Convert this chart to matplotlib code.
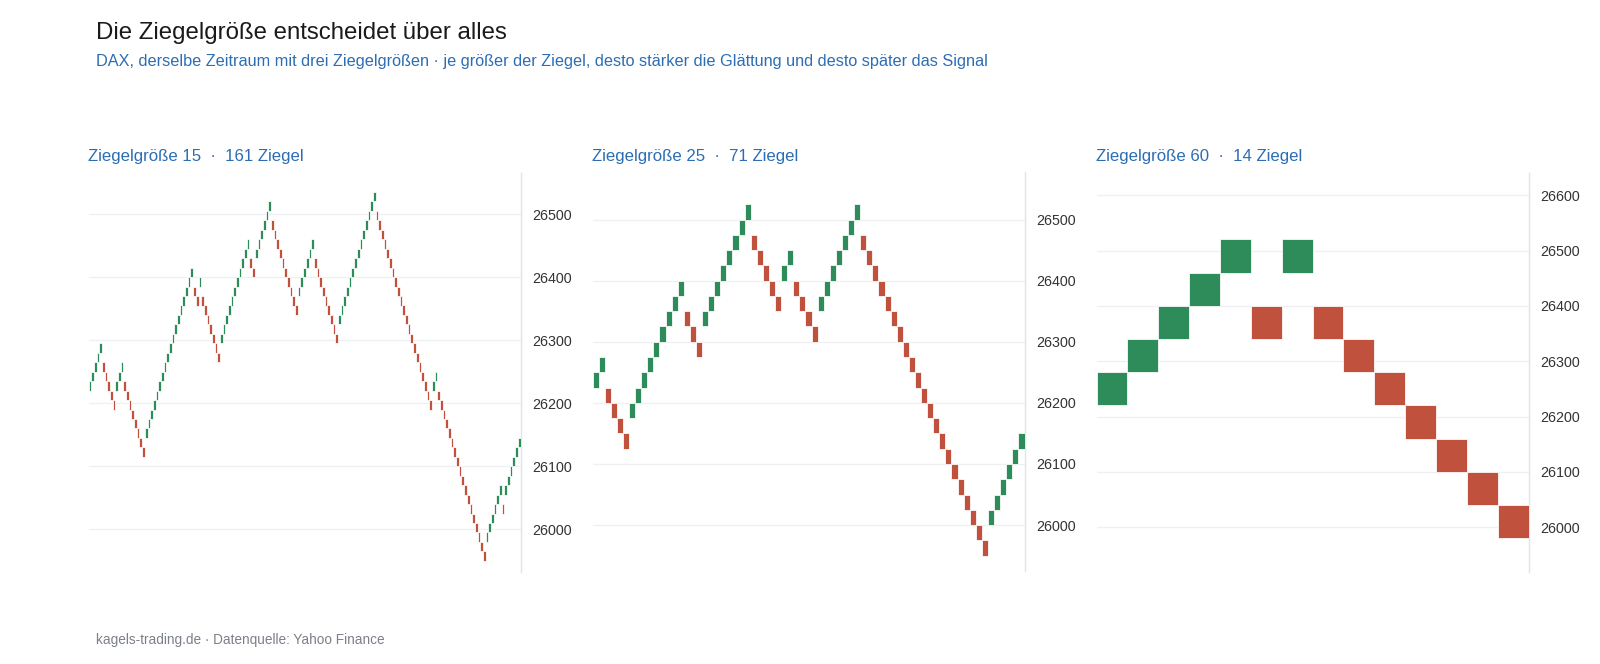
import numpy as np
import matplotlib
matplotlib.use("Agg")
import matplotlib.pyplot as plt

plt.rcParams['font.family'] = ['Liberation Sans', 'DejaVu Sans']

# Renko-Ziegel als Laenge der Serien (+ = gruen / steigend, - = rot / fallend)
brick_sizes = [15, 25, 60]
start_prices = [26220, 26225, 26220]
runs_15 = [5, -5, 3, -8, 18, -2, 1, -7, 11, -2, 6, -10, 6, -9, 14, -21, 2, -18, 6, -1, 6]
runs_25 = [2, -4, 9, -3, 8, -5, 2, -4, 7, -21, 6]
runs_60 = [5, -1, 1, -7]
brick_counts = [161, 71, 14]
y_limits = [(25933, 26566), (25924, 26577), (25920, 26641)]

GREEN = '#2e8b5a'
RED = '#c0513c'
BLUE = '#2c6db4'


def renko_bricks(runs, start, size):
    ''' bottoms and colors of the bricks, reversal jumps two bricks '''
    bottoms, colors = [], []
    level = None
    direction = 0
    for run in runs:
        d = 1 if run > 0 else -1
        for _ in range(abs(run)):
            if level is None:
                level = 0
            elif d == direction:
                level += d
            else:
                level += 2 * d
            direction = d
            bottoms.append(start + level * size)
            colors.append(GREEN if d > 0 else RED)
    return np.array(bottoms), colors


W, H = 1600, 664
fig = plt.figure(figsize=(16, 6.64), dpi=100)

lefts = [88.5, 592.5, 1096.5]
ax_w = 432
ax_top, ax_bot = 172.5, 571.5

all_runs = [runs_15, runs_25, runs_60]
for i in range(3):
    ax = fig.add_axes([lefts[i] / W, 1 - ax_bot / H, ax_w / W, (ax_bot - ax_top) / H])
    bottoms, colors = renko_bricks(all_runs[i], start_prices[i], brick_sizes[i])
    x = np.arange(len(bottoms))
    ax.bar(x, brick_sizes[i], bottom=bottoms, width=1, align='edge',
           color=colors, edgecolor='white', linewidth=0.55, zorder=3)
    ax.set_xlim(0, len(bottoms))
    lo, hi = y_limits[i]
    ax.set_ylim(lo, hi)
    ticks = np.arange(np.ceil(lo / 100) * 100, hi, 100)
    ax.set_yticks(ticks)
    ax.set_yticklabels([f'{int(t)}' for t in ticks])
    ax.yaxis.tick_right()
    ax.tick_params(axis='y', length=0, pad=8.8, labelsize=10.3, labelcolor='#333333')
    ax.set_xticks([])
    ax.grid(axis='y', color='#eef0f4', linewidth=1, zorder=0)
    ax.set_axisbelow(True)
    for side in ['top', 'left', 'bottom']:
        ax.spines[side].set_visible(False)
    ax.spines['right'].set_color('#dfe5ee')
    ax.spines['right'].set_linewidth(1)
    fig.text(lefts[i] / W, 1 - 156.5 / H,
             f'Ziegelgröße {brick_sizes[i]}  \u00b7  {brick_counts[i]} Ziegel',
             fontsize=12.1, color=BLUE, va='center', ha='left')

fig.text(96.5 / W, 1 - 32.5 / H, 'Die Ziegelgröße entscheidet über alles',
         fontsize=17.3, color='#1a1a1a', va='center', ha='left')
fig.text(96.5 / W, 1 - 61.5 / H,
         'DAX, derselbe Zeitraum mit drei Ziegelgrößen · je größer der Ziegel, '
         'desto stärker die Glättung und desto später das Signal',
         fontsize=11.7, color=BLUE, va='center', ha='left')
fig.text(96.5 / W, 1 - 640 / H, 'kagels-trading.de · Datenquelle: Yahoo Finance',
         fontsize=9.8, color='#7b8089', va='center', ha='left')

fig.savefig('out.png', dpi=100, facecolor='white')
